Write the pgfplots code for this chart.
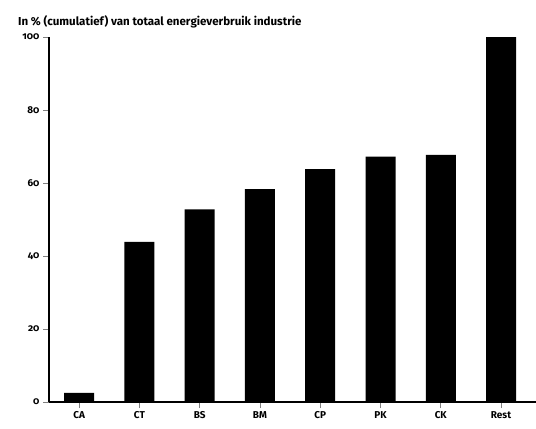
\documentclass[border=0pt]{standalone}
\usepackage{fontspec}
\setmainfont{Fira Sans}[Numbers=OldStyle]
\usepackage{pgfplots}
\pgfplotsset{compat=1.18}
\begin{document}
\begin{tikzpicture}[x=1bp,y=1bp]
\useasboundingbox (0,-428) rectangle (536,0);
\node[anchor=west, font=\bfseries\fontsize{11.6}{13}\selectfont, inner sep=0pt] at (18,-22)
  {In \% (cumulatief) van totaal energieverbruik industrie};
\begin{axis}[
    at={(49bp,-402bp)}, anchor=south west,
    scale only axis,
    width=487bp, height=365bp,
    axis x line=bottom, axis y line=left,
    axis line style={-, line width=2bp},
    xmin=-0.5, xmax=7.58,
    ymin=0, ymax=100,
    ytick={0,20,40,60,80,100},
    xtick={0,...,7},
    xticklabels={CA,CT,BS,BM,CP,PK,CK,Rest},
    tick align=outside,
    major tick length=6bp,
    major tick style={gray, line width=0.7bp},
    ticklabel style={font=\bfseries\fontsize{10}{12}\selectfont},
    /pgf/number format/assume math mode=true,
    ybar, bar width=30bp,
]
\addplot[fill=black, draw=none] coordinates {
    (0,2.5) (1,43.9) (2,52.8) (3,58.3) (4,63.8) (5,67.2) (6,67.7) (7,100)
};
\end{axis}
\end{tikzpicture}
\end{document}
